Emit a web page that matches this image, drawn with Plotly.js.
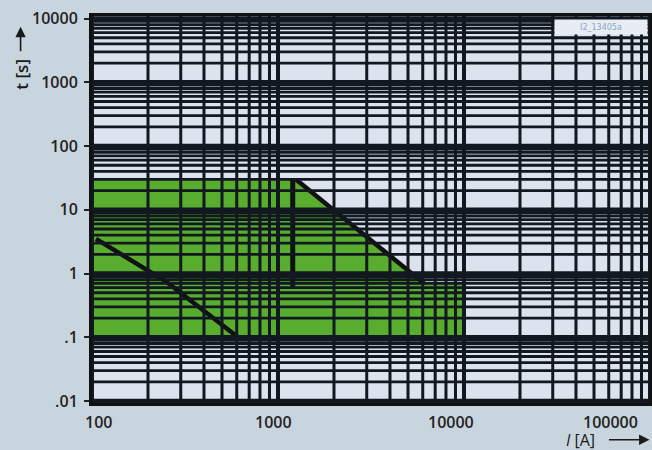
<!DOCTYPE html>
<html>
<head>
<meta charset="utf-8">
<script src="https://cdn.plot.ly/plotly-3.0.1.min.js"></script>
<style>
  html, body { margin: 0; padding: 0; background: #c9d5de; }
  #chart { width: 652px; height: 450px; }
</style>
</head>
<body>
<div id="chart"></div>
<script>
// ---- data ----
// settable range (green band), current in A, time in s
const bandCurrent = [100, 1200, 1250, 6000, 10000, 10000, 100];
const bandTime    = [30,   30,   30,   0.7,  0.7,   0.1,   0.1];

// lower characteristic (I2t line)
const lowCurrent = [105, 250, 610];
const lowTime    = [3.5, 0.75, 0.1];

// upper characteristic: vertical step and I2t slope
const upVertCurrent = [1200, 1200];
const upVertTime    = [30, 0.62];
const upSlopeCurrent = [1250, 6100];
const upSlopeTime    = [30, 0.7];

// axis ticks
const xDecades = [100, 1000, 10000, 100000];
const xTickText = ['100', '1000', '10000', '100000'];
const yDecades = [0.01, 0.1, 1, 10, 100, 1000, 10000];
const yTickText = ['.01', '.1', '1', '10', '100', '1000', '10000'];
const mantissas = [2, 3, 4, 5, 6, 7, 8, 9];

const figureCode = 'I2_13405a';

// ---- styling ----
const gridColor = '#121820';
const xLabelShift = [6, -5, -13, -40];

const shapes = [];
function vline(v, w) {
  shapes.push({type: 'line', xref: 'x', yref: 'paper', x0: v, x1: v, y0: 0, y1: 1,
    line: {color: gridColor, width: w}, layer: 'above'});
}
function hline(v, w) {
  shapes.push({type: 'line', xref: 'paper', yref: 'y', x0: 0, x1: 1, y0: v, y1: v,
    line: {color: gridColor, width: w}, layer: 'above'});
}
xDecades.forEach((d, i) => {
  if (i < xDecades.length - 1) mantissas.forEach(m => vline(d * m, 3));
  vline(d, 4);
});
yDecades.forEach((d, i) => {
  if (i < yDecades.length - 1) mantissas.forEach(m => hline(d * m, 2.8));
  hline(d, 4.5);
});

const traces = [
  {x: bandCurrent, y: bandTime, type: 'scatter', mode: 'lines', fill: 'toself',
   fillcolor: '#58ad2e', line: {width: 0, color: '#58ad2e'}, hoverinfo: 'skip'},
  {x: lowCurrent, y: lowTime, type: 'scatter', mode: 'lines',
   line: {color: '#101010', width: 4.5}},
  {x: upVertCurrent, y: upVertTime, type: 'scatter', mode: 'lines',
   line: {color: '#101010', width: 5}},
  {x: upSlopeCurrent, y: upSlopeTime, type: 'scatter', mode: 'lines',
   line: {color: '#101010', width: 4.5}}
];

const annotations = [];
xDecades.forEach((d, i) => {
  annotations.push({x: Math.log10(d), y: 0, xref: 'x', yref: 'paper',
    text: xTickText[i], showarrow: false, yanchor: 'top', xanchor: 'center',
    xshift: xLabelShift[i], yshift: -6,
    font: {family: 'Open Sans', size: 16, color: '#222', weight: 600}});
});
// y title
annotations.push({x: -0.128, y: 0.85, xref: 'paper', yref: 'paper', text: 't [s]',
  showarrow: false, textangle: -90, xanchor: 'center', yanchor: 'middle',
  font: {family: 'Open Sans', size: 17, color: '#1a1a1a', weight: 600}});
annotations.push({x: -0.128, y: 0.972, xref: 'paper', yref: 'paper', text: '',
  showarrow: true, ax: 0, ay: 26, axref: 'pixel', ayref: 'pixel',
  arrowhead: 2, arrowsize: 1.3, arrowwidth: 1.6, arrowcolor: '#1a1a1a'});
// x title
annotations.push({x: 0.875, y: -0.095, xref: 'paper', yref: 'paper', text: '<i>I</i> [A]',
  showarrow: false, xanchor: 'center', yanchor: 'middle',
  font: {family: 'Open Sans', size: 16, color: '#1a1a1a'}});
annotations.push({x: 0.999, y: -0.095, xref: 'paper', yref: 'paper', text: '',
  showarrow: true, ax: -42, ay: 0, arrowhead: 2, arrowsize: 1.3, arrowwidth: 1.6,
  arrowcolor: '#1a1a1a'});
// figure code box
annotations.push({x: 0.997, y: 0.992, xref: 'paper', yref: 'paper', text: figureCode,
  showarrow: false, xanchor: 'right', yanchor: 'top', width: 90, height: 12,
  bgcolor: '#e8edf4', font: {family: 'DejaVu Sans', size: 8, color: '#86a6c6'}});

const layout = {
  width: 652, height: 450,
  margin: {l: 92, r: 2, t: 16, b: 47},
  paper_bgcolor: '#c9d5de',
  plot_bgcolor: '#dce3ef',
  showlegend: false,
  xaxis: {type: 'log', range: [2, 5], showgrid: false, zeroline: false,
    showticklabels: false, ticks: '', showline: true, mirror: true,
    linewidth: 3, linecolor: '#111'},
  yaxis: {type: 'log', range: [-2.03, 4.04], showgrid: false, zeroline: false,
    tickvals: yDecades, ticktext: yTickText, ticks: 'outside', ticklen: 5,
    tickwidth: 2, tickcolor: '#222', ticklabelstandoff: 3,
    showline: true, mirror: true, linewidth: 3, linecolor: '#111',
    tickfont: {family: 'Open Sans', size: 16, color: '#222', weight: 600}},
  shapes: shapes,
  annotations: annotations
};

Plotly.newPlot('chart', traces, layout, {displayModeBar: false, staticPlot: true});
</script>
</body>
</html>
